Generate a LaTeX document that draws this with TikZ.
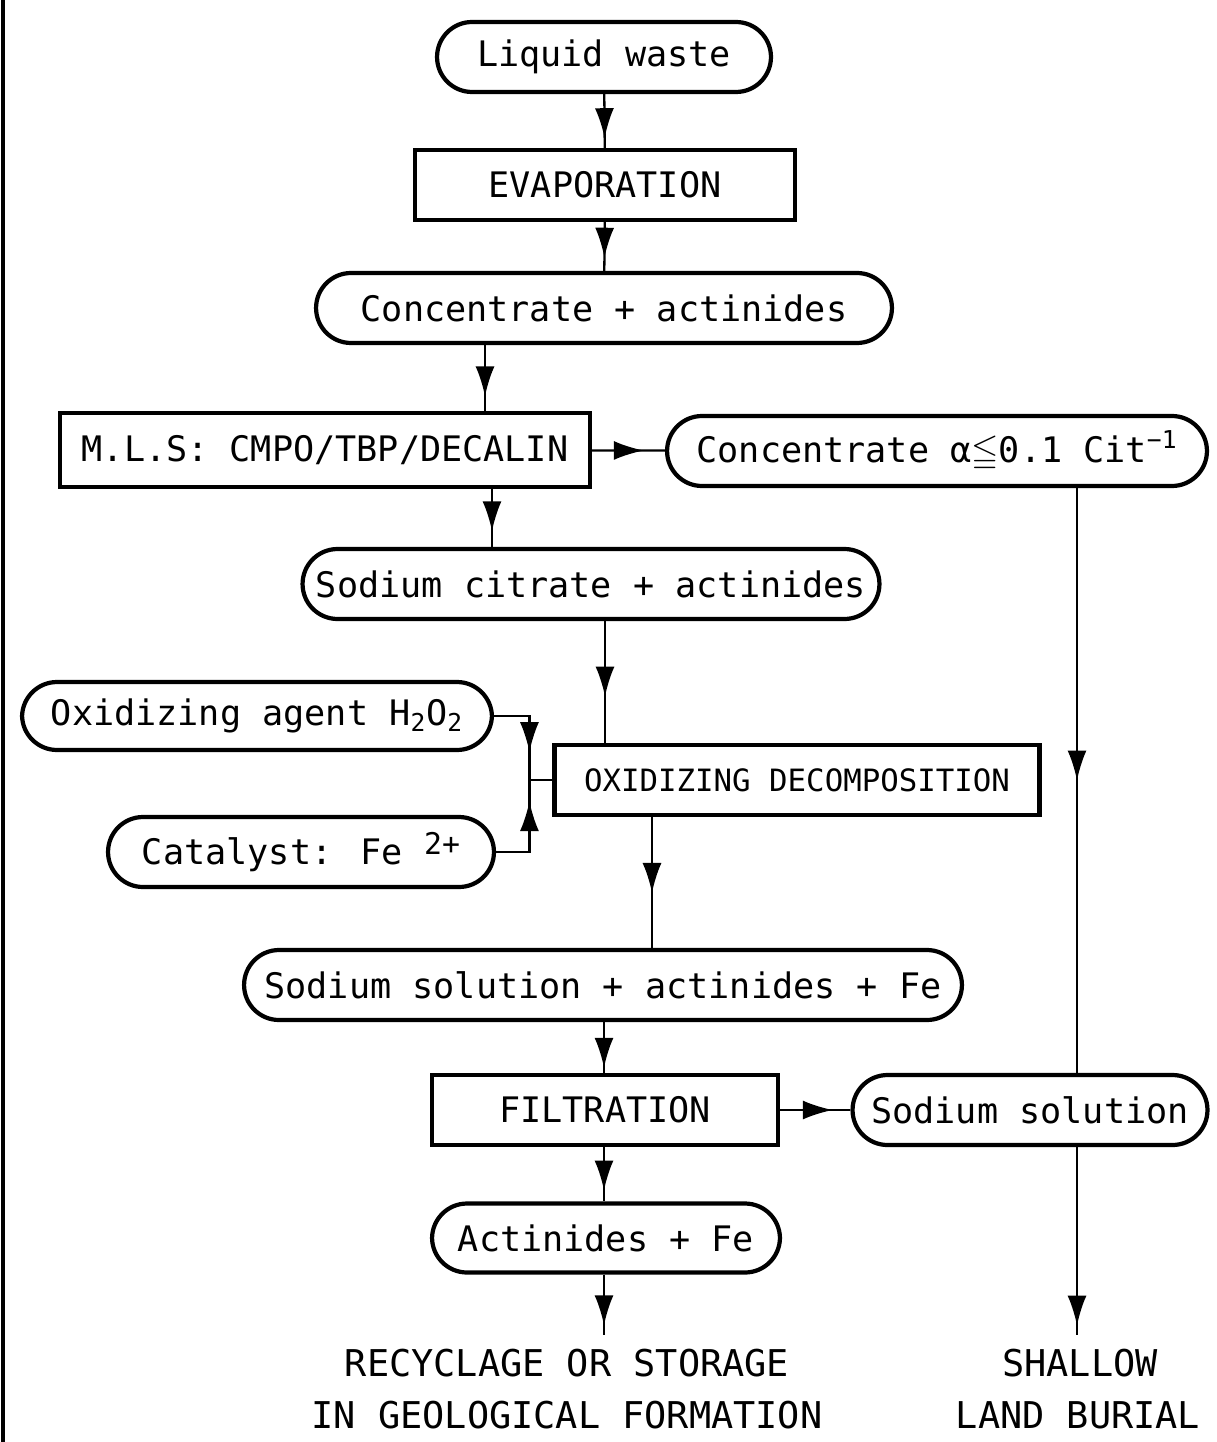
\documentclass[tikz,border=0pt]{standalone}
\usepackage{fontspec}
\usepackage{amssymb}
\setmainfont{DejaVu Sans Mono}
\usetikzlibrary{arrows.meta,decorations.markings}

\begin{document}
\begin{tikzpicture}[x=0.02cm, y=-0.02cm,
    box/.style={draw, line width=2.4pt, minimum height=1.4cm, inner sep=0pt, font=\fontsize{20}{22}\selectfont},
    pill/.style={draw, line width=2.4pt, rounded corners=0.7cm, minimum height=1.4cm, inner sep=0pt, font=\fontsize{20}{22}\selectfont},
    flow/.style={line width=1.3pt, postaction={decorate},
        decoration={markings, mark=at position #1 with {\arrow{Latex[length=0.6cm,width=0.38cm]}}}},
    lab/.style={inner sep=0pt, font=\fontsize{21}{24}\selectfont}]
    \useasboundingbox (0,0) rectangle (1216,1442);
    \draw[line width=2pt] (3,0) -- (3,1442);

    % main column
    \node[pill, minimum width=6.68cm]  (waste) at (604,57)  {Liquid waste};
    \node[box,  minimum width=7.6cm]   (evap)  at (605,185) {EVAPORATION};
    \node[pill, minimum width=11.52cm] (conc)  at (604,308) {Concentrate + actinides};
    \node[box,  minimum width=10.6cm, minimum height=1.48cm] (mls) at (325,450) {M.L.S: CMPO/TBP/DECALIN};
    \node[pill, minimum width=10.8cm]  (alpha) at (937,451) {Concentrate α$\leqq$0.1 Cit\textsuperscript{−1}};
    \node[pill, minimum width=11.54cm] (cit)   at (591,584) {Sodium citrate + actinides};
    \node[pill, minimum width=9.4cm, minimum height=1.36cm] (agent) at (257,716) {Oxidizing agent H\textsubscript{2}O\textsubscript{2}};
    \node[box,  minimum width=9.7cm, font=\fontsize{17.5}{20}\selectfont] (oxid) at (797,780) {OXIDIZING DECOMPOSITION};
    \node[pill, minimum width=7.72cm]  (cat)   at (301,852) {Catalyst: Fe \raisebox{0.5ex}{\fontsize{17}{20}\selectfont 2+}};
    \node[pill, minimum width=14.36cm] (sol)   at (603,985) {Sodium solution + actinides + Fe};
    \node[box,  minimum width=6.92cm]  (filt)  at (605,1110) {FILTRATION};
    \node[pill, minimum width=7.1cm]   (nasol) at (1030,1110) {Sodium solution};
    \node[pill, minimum width=6.96cm, minimum height=1.38cm] (act) at (606,1238) {Actinides + Fe};

    % end texts
    \node[lab] (recy)   at (567,1363) {RECYCLAGE OR STORAGE};
    \node[lab] (geol)   at (567,1415) {IN GEOLOGICAL FORMATION};
    \node[lab] (shal)   at (1080,1363) {SHALLOW};
    \node[lab] (burial) at (1078,1415) {LAND BURIAL};
    \coordinate (recyend) at (604,1335);
    \coordinate (shalend) at (1077,1335);
    \path (oxid.west) ++(-23,0) coordinate (join);

    % connectors
    \draw[flow=0.82] (waste) -- (evap);
    \draw[flow=0.73] (evap) -- (conc);
    \draw[flow=0.78] (conc.south -| 485,0) -- (mls.north -| 485,0);
    \draw[flow=0.71] (mls) -- (alpha);
    \draw[flow=0.73] (mls.south -| 492,0) -- (cit.north -| 492,0);
    \draw[flow=0.62] (cit.south -| 605,0) -- (oxid.north -| 605,0);
    \draw[flow=0.72] (agent.east) -| (join);
    \draw[flow=0.8] (cat.east) -| (join);
    \draw[line width=1.3pt] (join) -- (oxid.west);
    \draw[flow=0.58] (oxid.south -| 652,0) -- (sol.north -| 652,0);
    \draw[flow=0.9] (sol.south -| 604,0) -- (filt.north -| 604,0);
    \draw[flow=0.75] (filt) -- (nasol);
    \draw[flow=0.8] (filt.south -| 604,0) -- (act.north -| 604,0);
    \draw[flow=0.84] (act.south -| 604,0) -- (recyend);
    \draw[flow=0.5] (alpha.south -| 1077,0) -- (nasol.north -| 1077,0);
    \draw[flow=0.95] (nasol.south -| 1077,0) -- (shalend);
\end{tikzpicture}
\end{document}
